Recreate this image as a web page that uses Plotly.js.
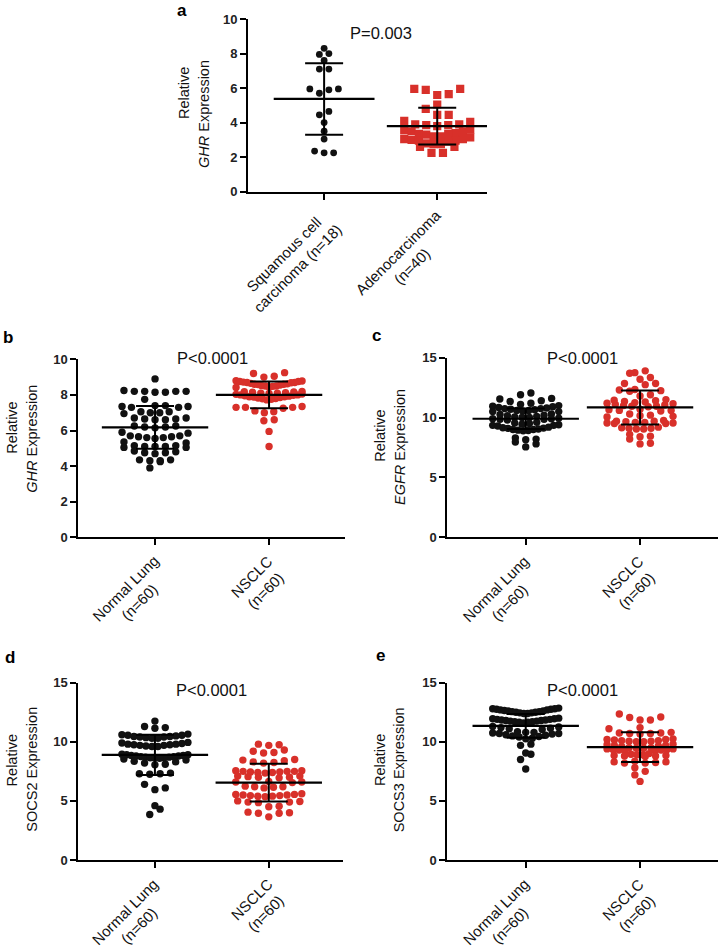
<!DOCTYPE html>
<html>
<head>
<meta charset="utf-8">
<script src="https://cdn.plot.ly/plotly-3.0.1.min.js"></script>
<style>
  body { margin: 0; background: #fff; }
  #fig { width: 720px; height: 951px; }
</style>
</head>
<body>
<div id="fig"></div>
<script>
// ---- data ----
var catsA = ['Squamous cell<br>carcinoma (n=18)', 'Adenocarcinoma<br>(n=40)'];
var catsLung = ['Normal Lung<br>(n=60)', 'NSCLC<br>(n=60)'];

// a: GHR, squamous vs adeno
var ghrSquamous = [8.3, 8.0, 7.95, 7.6, 7.1, 7.1, 5.95, 5.95, 5.9, 5.7, 4.65, 4.45, 4.0, 3.5, 3.05, 2.35, 2.25, 2.25];
var ghrAdeno = [5.95, 5.95, 5.9, 5.65, 5.6, 5.05, 4.8, 4.45, 4.45, 4.1, 4.05, 3.9, 3.85, 3.85, 3.8, 3.9,
  3.6, 3.55, 3.5, 3.5, 3.4, 3.35, 3.35, 3.3, 3.2, 3.2, 3.15, 3.05, 3.05, 3.0, 2.95, 2.95, 2.9,
  2.8, 2.75, 2.75, 2.6, 2.6, 2.25, 2.25];
var meanA = [5.37, 3.80];
var sdA = [2.07, 1.06];

// b: GHR normal vs NSCLC
var ghrNormal = [8.9, 8.2, 8.2, 8.25, 8.15, 8.15, 8.2, 8.2, 7.75, 7.4, 7.35, 7.3, 7.3, 7.35, 7.4,
  7.05, 7.0, 6.95, 7.0, 7.05, 6.7, 6.65, 6.6, 6.65, 6.7, 6.6, 6.25, 6.2, 6.15, 6.2, 6.25, 5.9, 5.85,
  5.7, 5.65, 5.6, 5.6, 5.65, 5.7, 5.55, 5.35, 5.3, 5.15, 5.1, 5.05, 5.1, 5.15, 5.1, 5.05,
  4.85, 4.75, 4.7, 4.75, 4.8, 4.35, 4.3, 4.25, 4.3, 4.35, 3.9];
var ghrNsclc = [9.25, 9.2, 9.05, 9.0,
  8.8, 8.78, 8.75, 8.75, 8.72, 8.7, 8.7, 8.68, 8.65, 8.62, 8.6, 8.6, 8.58, 8.55, 8.52, 8.5, 8.5, 8.48, 8.45, 8.42,
  8.2, 8.18, 8.16, 8.15, 8.12, 8.1, 8.1, 8.08, 8.05, 8.03, 8.0, 8.0, 7.98, 7.95, 7.93, 7.9, 7.9, 7.88, 7.85, 7.82,
  7.8, 7.78, 7.75, 7.72,
  7.35, 7.3, 7.3, 7.25, 7.3, 7.1, 7.0, 7.05, 6.6, 6.55, 5.95, 5.1];
var meanB = [6.17, 8.0];
var sdB = [1.2, 0.75];

// c: EGFR
var egfrNormal = [12.05, 11.9, 11.6, 11.55, 11.4, 11.35, 11.2, 11.1,
  11.0, 10.95, 10.9, 10.85, 10.8, 10.75, 10.75, 10.7, 10.65, 10.6, 10.6, 10.55, 10.5, 10.5,
  10.3, 10.25, 10.2, 10.15, 10.1, 10.05, 10.0, 10.0, 9.95, 9.9, 9.9, 9.85, 9.85, 9.8,
  9.6, 9.55, 9.5, 9.45, 9.4, 9.35, 9.35, 9.3,
  9.2, 9.15, 9.12, 9.1, 9.05, 9.0, 9.0, 8.95, 8.92, 8.9,
  8.3, 8.2, 8.15, 7.95, 7.8, 7.55];
var egfrNsclc = [13.9, 13.75, 13.7, 13.35, 13.2, 12.85, 12.85, 12.75, 12.35, 12.3, 12.25, 12.2, 11.9, 11.8,
  11.5, 11.45, 11.4, 11.35, 11.3, 11.25, 11.2, 11.15, 11.1, 11.05, 11.0, 10.95, 10.95, 10.9,
  10.7, 10.65, 10.6, 10.55, 10.6, 10.3, 10.2, 10.15, 10.1, 10.05,
  9.75, 9.7, 9.7, 9.65, 9.6, 9.6, 9.55, 9.55, 9.5, 9.5,
  9.2, 9.15, 9.1, 9.1, 9.05, 9.05, 8.6, 8.45, 8.4, 8.2, 7.85, 7.8];
var meanC = [9.9, 10.85];
var sdC = [0.85, 1.42];

// d: SOCS2
var socs2Normal = [11.75, 11.3, 11.2, 11.15,
  10.65, 10.6, 10.55, 10.55, 10.5, 10.45, 10.45, 10.4, 10.4, 10.35, 10.3, 10.3,
  9.95, 9.9, 9.85, 9.8, 9.8, 9.75, 9.75, 9.7, 9.7, 9.65, 9.6, 9.6,
  8.95, 8.9, 8.9, 8.85, 8.85, 8.8, 8.8, 8.75, 8.75, 8.7, 8.7, 8.65, 8.65, 8.6, 8.6, 8.55,
  8.45, 8.35, 8.3, 8.2, 8.1, 8.05, 7.35, 7.3, 7.3, 7.25, 6.4, 6.1, 5.95, 4.6, 4.3, 3.85];
var socs2Nsclc = [9.8, 9.75, 9.7, 9.3, 9.2, 9.1, 9.05, 8.5, 8.45, 8.4, 8.3, 8.25, 8.2,
  7.55, 7.5, 7.5, 7.45, 7.4, 7.45, 7.5, 7.55, 7.4, 7.35, 7.1, 7.05, 7.0, 6.95, 7.0, 7.1,
  6.65, 6.6, 6.55, 6.6, 6.25, 6.2, 6.15, 6.1, 6.2,
  5.55, 5.5, 5.45, 5.4, 5.35, 5.4, 5.45, 5.5, 5.55, 5.6, 5.0, 4.95, 4.9, 4.85, 4.9,
  4.55, 4.5, 4.05, 4.0, 3.95, 3.95, 3.65];
var meanD = [8.9, 6.55];
var sdD = [1.7, 1.6];

// e: SOCS3
var socs3Normal = [12.85, 12.8, 12.8, 12.75, 12.75, 12.7, 12.7, 12.65, 12.6, 12.6, 12.55, 12.55, 12.5, 12.5, 12.45, 12.45, 12.4, 12.4,
  12.0, 11.95, 11.95, 11.9, 11.9, 11.85, 11.85, 11.8, 11.8, 11.75, 11.75, 11.7, 11.7, 11.65, 11.65, 11.6,
  11.3, 11.25, 11.2, 11.15, 11.1, 11.05,
  10.85, 10.8, 10.8, 10.75, 10.7, 10.7, 10.65, 10.6, 10.55, 10.5, 10.45, 10.4, 10.3, 10.25,
  9.8, 9.7, 9.05, 8.95, 8.5, 7.7];
var socs3Nsclc = [12.35, 12.1, 12.05, 11.85, 11.85, 11.2, 11.1,
  10.75, 10.7, 10.7, 10.65, 10.75, 10.8,
  10.25, 10.2, 10.2, 10.15, 10.1, 10.1, 10.05, 10.05, 10.0, 10.0,
  9.8, 9.75, 9.7, 9.7, 9.65, 9.6,
  9.5, 9.5, 9.45, 9.45, 9.4, 9.4, 9.35, 9.35, 9.3, 9.3, 9.25, 9.2,
  9.0, 8.95, 8.9, 8.9, 8.85, 8.85, 8.8, 8.8, 8.75,
  8.35, 8.3, 8.3, 8.25, 8.2, 8.2, 7.8, 7.5, 7.2, 6.65];
var meanE = [11.35, 9.55];
var sdE = [1.0, 1.25];

var pvals = ['P=0.003', 'P&lt;0.0001', 'P&lt;0.0001', 'P&lt;0.0001', 'P&lt;0.0001'];

// ---- page geometry (px) ----
var W = 720, H = 951;
var RED = '#d8302a', BLK = '#111';
var FONT = 'Liberation Sans, Arial, sans-serif';

// box: [left, right, top, bottom] of plot area in px
var panels = [
  {sfx: '',  letter: 'a', box: [248, 487, 19, 191.7],    xr: [-0.673, 1.44],  yr: [0, 10], dtick: 2,
   cats: catsA, groups: [ghrSquamous, ghrAdeno], mean: meanA, sd: sdA, gene: '<i>GHR</i> Expression',
   sym: ['circle', 'square'], size: [6.8, 8.2], lineW: 72,
   letterPos: [181.7, 10], pY: 32.7, t1: [-64, 93], t2: [-44, 114]},
  {sfx: '2', letter: 'b', box: [78.3, 345, 359.3, 537.3], xr: [-0.673, 1.666], yr: [0, 10], dtick: 2,
   cats: catsLung, groups: [ghrNormal, ghrNsclc], mean: meanB, sd: sdB, gene: '<i>GHR</i> Expression',
   sym: ['circle', 'circle'], size: [7.4, 7.4], lineW: 76,
   letterPos: [8, 337.4], pY: 357.7, t1: [-66.6, 428], t2: [-46.6, 439]},
  {sfx: '3', letter: 'c', box: [447.3, 718, 357.7, 537.3], xr: [-0.686, 1.682], yr: [0, 15], dtick: 5,
   cats: catsLung, groups: [egfrNormal, egfrNsclc], mean: meanC, sd: sdC, gene: '<i>EGFR</i> Expression',
   sym: ['circle', 'circle'], size: [7.4, 7.4], lineW: 76,
   letterPos: [376.7, 335.7], pY: 358.4, t1: [-67.3, 435.7], t2: [-48, 446.7]},
  {sfx: '4', letter: 'd', box: [78.3, 343, 682.7, 860],   xr: [-0.673, 1.652], yr: [0, 15], dtick: 5,
   cats: catsLung, groups: [socs2Normal, socs2Nsclc], mean: meanD, sd: sdD, gene: 'SOCS2 Expression',
   sym: ['circle', 'circle'], size: [7.4, 7.4], lineW: 76,
   letterPos: [10, 657.4], pY: 690, t1: [-66.6, 760.7], t2: [-46.6, 769]},
  {sfx: '5', letter: 'e', box: [447.3, 718, 682.7, 860],  xr: [-0.686, 1.682], yr: [0, 15], dtick: 5,
   cats: catsLung, groups: [socs3Normal, socs3Nsclc], mean: meanE, sd: sdE, gene: 'SOCS3 Expression',
   sym: ['circle', 'circle'], size: [7.4, 7.4], lineW: 76,
   letterPos: [380, 655.7], pY: 690.4, t1: [-67.3, 760], t2: [-48, 770]}
];

// GraphPad-style scatter: values binned into rows, each row spread out from the centre
function swarmOffsets(vals, pxPerY, pxPerX, diam, gap, span) {
  var order = vals.map(function (v, i) { return i; }).sort(function (a, b) { return vals[a] - vals[b]; });
  var rowH = diam * 0.85 / pxPerY;
  var rows = [], cur = [];
  order.forEach(function (i) {
    if (cur.length && vals[i] - vals[cur[0]] > rowH) { rows.push(cur); cur = []; }
    cur.push(i);
  });
  if (cur.length) rows.push(cur);
  var off = vals.map(function () { return 0; });
  rows.forEach(function (r) {
    var n = r.length;
    var s = n > 1 ? Math.min(gap, span / (n - 1)) : 0;
    r.forEach(function (i, k) {
      var pos;
      if (n % 2) pos = k === 0 ? 0 : Math.ceil(k / 2) * (k % 2 ? 1 : -1);
      else pos = (Math.floor(k / 2) + 0.5) * (k % 2 ? 1 : -1);
      off[i] = pos * s / pxPerX;
    });
  });
  return off;
}

var data = [];
var layout = {
  width: W, height: H,
  margin: {l: 0, r: 0, t: 0, b: 0},
  paper_bgcolor: '#fff', plot_bgcolor: 'rgba(0,0,0,0)',
  showlegend: false,
  font: {family: FONT, color: '#111'},
  annotations: []
};

function px(x) { return x / W; }
function py(y) { return 1 - y / H; }

panels.forEach(function (p, pi) {
  var xa = 'x' + p.sfx, ya = 'y' + p.sfx;
  var b = p.box;
  var pxPerX = (b[1] - b[0]) / (p.xr[1] - p.xr[0]);
  var pxPerY = (b[3] - b[2]) / (p.yr[1] - p.yr[0]);

  layout['xaxis' + p.sfx] = {
    domain: [px(b[0]), px(b[1])], range: p.xr, anchor: ya,
    showline: true, linewidth: 2, linecolor: '#000',
    ticks: 'outside', ticklen: 6, tickwidth: 2, tickcolor: '#000',
    tickvals: [0, 1], showticklabels: false,
    showgrid: false, zeroline: false, fixedrange: true
  };
  layout['yaxis' + p.sfx] = {
    domain: [py(b[3]), py(b[2])], range: p.yr, anchor: xa,
    showline: true, linewidth: 2, linecolor: '#000',
    ticks: 'outside', ticklen: 6, tickwidth: 2, tickcolor: '#000',
    tick0: 0, dtick: p.dtick,
    tickfont: {family: FONT, size: 13, weight: 'bold', color: '#222'},
    showgrid: false, zeroline: false, fixedrange: true
  };

  p.groups.forEach(function (vals, g) {
    var gap = p.size[g] * 1.4;
    var off = swarmOffsets(vals, pxPerY, pxPerX, p.size[g], gap, 66);
    data.push({
      type: 'scatter', mode: 'markers', xaxis: xa, yaxis: ya,
      x: vals.map(function (v, i) { return g + off[i]; }),
      y: vals,
      marker: {symbol: p.sym[g], size: p.size[g], color: g ? RED : BLK, line: {width: 0}},
      hoverinfo: 'skip'
    });
  });

  // mean line with SD whiskers
  data.push({
    type: 'scatter', mode: 'markers', xaxis: xa, yaxis: ya,
    x: [0, 1], y: p.mean,
    marker: {symbol: 'line-ew', size: p.lineW, color: '#000', line: {width: 2.2, color: '#000'}},
    error_y: {type: 'data', array: p.sd, visible: true, color: '#000', thickness: 2, width: 19},
    hoverinfo: 'skip'
  });

  var ann = layout.annotations;
  ann.push({xref: 'paper', yref: 'paper', x: px(p.letterPos[0]), y: py(p.letterPos[1]),
    text: '<b>' + p.letter + '</b>', showarrow: false, xanchor: 'center', yanchor: 'middle',
    font: {size: 17, color: '#000'}});
  ann.push({xref: xa, yref: 'paper', x: 0.5, y: py(p.pY),
    text: pvals[pi], showarrow: false, xanchor: 'center', yanchor: 'middle',
    font: {size: 16.5, color: '#111'}});
  ann.push({xref: 'paper', yref: 'paper', x: px(b[0] + p.t1[0]), y: py(p.t1[1]),
    text: 'Relative', textangle: -90, showarrow: false, xanchor: 'center', yanchor: 'middle',
    font: {size: 14.5, color: '#111'}});
  ann.push({xref: 'paper', yref: 'paper', x: px(b[0] + p.t2[0]), y: py(p.t2[1]),
    text: p.gene, textangle: -90, showarrow: false, xanchor: 'center', yanchor: 'middle',
    font: {size: 14.5, color: '#111'}});
  p.cats.forEach(function (c, i) {
    ann.push({xref: xa, yref: ya, x: i, y: 0, text: c, textangle: -45, align: 'center',
      showarrow: false, xanchor: 'right', yanchor: 'top', xshift: 21, yshift: -15,
      borderpad: 0, borderwidth: 0, font: {size: 15, color: '#111'}});
  });
});

Plotly.newPlot('fig', data, layout, {displayModeBar: false, staticPlot: true});
</script>
</body>
</html>
